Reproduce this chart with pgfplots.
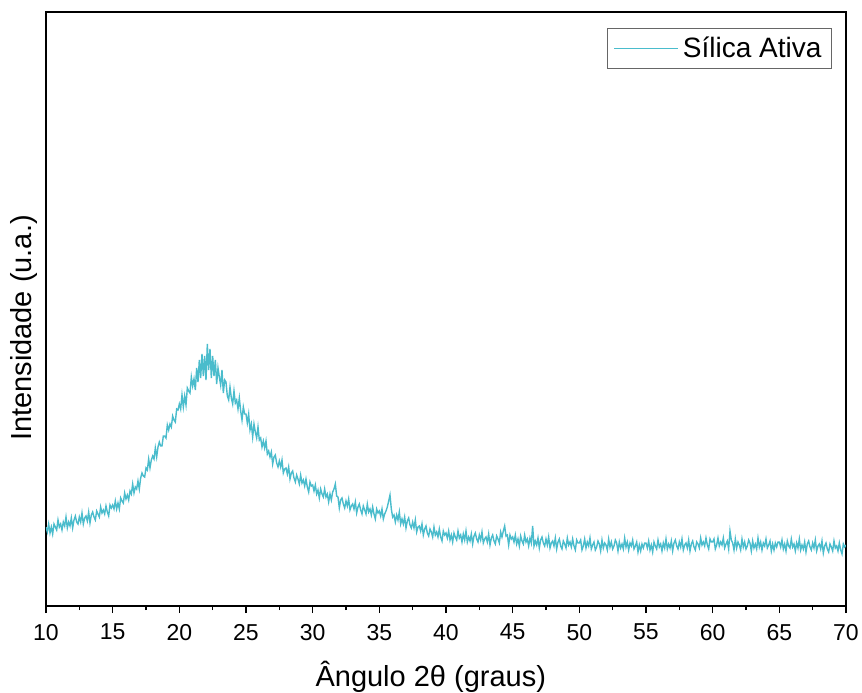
\documentclass[border=0pt]{standalone}
\usepackage{fontspec}
\setmainfont{Liberation Sans}
\usepackage{pgfplots}
\pgfplotsset{compat=1.18}
\definecolor{teal1}{RGB}{74,188,204}
\begin{document}
\begin{tikzpicture}
\useasboundingbox (-23pt,-43pt) rectangle (408pt,303pt);
\begin{axis}[
  at={(0,0)}, anchor=south west,
  scale only axis, width=400pt, height=297pt,
  xmin=10, xmax=70, ymin=0, ymax=594,
  xtick={10,15,...,70}, minor x tick num=1,
  ytick=\empty,
  xtick pos=bottom, tick align=outside,
  major tick length=3.5pt, minor tick length=2pt,
  axis line style={line width=0.9pt},
  every tick/.style={line width=0.8pt, black},
  /pgf/number format/assume math mode=true,
  ticklabel style={font=\fontsize{11.5}{13}\selectfont},
  xticklabel style={yshift=-2pt},
  xlabel={Ângulo 2θ (graus)},
  ylabel={Intensidade (u.a.)},
  label style={font=\fontsize{14.5}{16}\selectfont},
  x label style={at={(axis description cs:0.481,-0.12)}, anchor=center},
  y label style={at={(axis description cs:-0.027,0.468)}, anchor=center},
  legend style={at={(0.9825,0.973)}, anchor=north east, draw=black!60, line width=0.5pt,
    font=\fontsize{14}{16}\selectfont, inner xsep=3pt, inner ysep=2pt},
  legend cell align=left,
  legend image code/.code={\draw[#1] (0pt,0pt) -- (32pt,0pt);},
]
\addplot[teal1, line width=0.7pt] table[row sep=\\] {
x y\\
10.0 79\\ 10.1 74\\ 10.2 82\\ 10.3 73\\ 10.4 79\\ 10.5 72\\ 10.6 82\\ 10.7 79\\ 10.8 76\\ 10.9 86\\
11.0 79\\ 11.1 82\\ 11.2 76\\ 11.3 84\\ 11.4 80\\ 11.5 89\\ 11.6 78\\ 11.7 84\\ 11.8 80\\ 11.9 88\\
12.0 78\\ 12.1 86\\ 12.2 90\\ 12.3 84\\ 12.4 82\\ 12.5 89\\ 12.6 84\\ 12.7 93\\ 12.8 82\\ 12.9 88\\
13.0 90\\ 13.1 85\\ 13.2 94\\ 13.3 83\\ 13.4 91\\ 13.5 94\\ 13.6 89\\ 13.7 86\\ 13.8 95\\ 13.9 92\\
14.0 89\\ 14.1 99\\ 14.2 93\\ 14.3 96\\ 14.4 92\\ 14.5 100\\ 14.6 94\\ 14.7 90\\ 14.8 101\\ 14.9 98\\
15.0 101\\ 15.1 97\\ 15.2 105\\ 15.3 97\\ 15.4 103\\ 15.5 97\\ 15.6 108\\ 15.7 105\\ 15.8 103\\ 15.9 113\\
16.0 107\\ 16.1 111\\ 16.2 106\\ 16.3 115\\ 16.4 112\\ 16.5 122\\ 16.6 113\\ 16.7 119\\ 16.8 117\\ 16.9 125\\
17.0 117\\ 17.1 128\\ 17.2 133\\ 17.3 130\\ 17.4 129\\ 17.5 138\\ 17.6 136\\ 17.7 147\\ 17.8 138\\ 17.9 146\\
18.0 150\\ 18.1 147\\ 18.2 158\\ 18.3 149\\ 18.4 159\\ 18.5 164\\ 18.6 160\\ 18.7 160\\ 18.8 170\\ 18.9 170\\
19.0 168\\ 19.1 181\\ 19.2 176\\ 19.3 182\\ 19.4 179\\ 19.5 190\\ 19.6 186\\ 19.7 184\\ 19.8 197\\ 19.9 196\\
20.0 202\\ 20.1 197\\ 20.2 211\\ 20.3 199\\ 20.4 210\\ 20.5 201\\ 20.6 218\\ 20.7 215\\ 20.8 213\\ 20.9 229\\
21.0 220\\ 21.1 227\\ 21.2 216\\ 21.3 238\\ 21.4 224\\ 21.5 246\\ 21.6 228\\ 21.7 252\\ 21.8 230\\ 21.9 250\\
22.0 226\\ 22.1 262\\ 22.2 236\\ 22.3 257\\ 22.4 228\\ 22.5 250\\ 22.6 230\\ 22.7 246\\ 22.8 222\\ 22.9 238\\
23.0 229\\ 23.1 221\\ 23.2 236\\ 23.3 213\\ 23.4 226\\ 23.5 224\\ 23.6 210\\ 23.7 206\\ 23.8 219\\ 23.9 208\\
24.0 202\\ 24.1 215\\ 24.2 203\\ 24.3 206\\ 24.4 197\\ 24.5 208\\ 24.6 195\\ 24.7 186\\ 24.8 199\\ 24.9 192\\
25.0 192\\ 25.1 183\\ 25.2 192\\ 25.3 176\\ 25.4 182\\ 25.5 169\\ 25.6 182\\ 25.7 174\\ 25.8 168\\ 25.9 179\\
26.0 166\\ 26.1 168\\ 26.2 159\\ 26.3 165\\ 26.4 158\\ 26.5 165\\ 26.6 152\\ 26.7 155\\ 26.8 149\\ 26.9 154\\
27.0 142\\ 27.1 149\\ 27.2 151\\ 27.3 143\\ 27.4 139\\ 27.5 145\\ 27.6 139\\ 27.7 146\\ 27.8 133\\ 27.9 137\\
28.0 138\\ 28.1 132\\ 28.2 139\\ 28.3 127\\ 28.4 133\\ 28.5 135\\ 28.6 128\\ 28.7 124\\ 28.8 131\\ 28.9 127\\
29.0 122\\ 29.1 131\\ 29.2 123\\ 29.3 126\\ 29.4 120\\ 29.5 127\\ 29.6 119\\ 29.7 114\\ 29.8 124\\ 29.9 120\\
30.0 121\\ 30.1 115\\ 30.2 121\\ 30.3 112\\ 30.4 116\\ 30.5 108\\ 30.6 117\\ 30.7 112\\ 30.8 109\\ 30.9 117\\
31.0 109\\ 31.1 112\\ 31.2 104\\ 31.3 112\\ 31.4 106\\ 31.5 114\\ 31.6 117\\ 31.7 122\\ 31.8 110\\ 31.9 109\\
32.0 98\\ 32.1 106\\ 32.2 108\\ 32.3 102\\ 32.4 98\\ 32.5 105\\ 32.6 100\\ 32.7 107\\ 32.8 96\\ 32.9 100\\
33.0 102\\ 33.1 97\\ 33.2 104\\ 33.3 93\\ 33.4 99\\ 33.5 102\\ 33.6 96\\ 33.7 92\\ 33.8 100\\ 33.9 96\\
34.0 92\\ 34.1 102\\ 34.2 94\\ 34.3 97\\ 34.4 91\\ 34.5 99\\ 34.6 92\\ 34.7 87\\ 34.8 97\\ 34.9 93\\
35.0 95\\ 35.1 90\\ 35.2 97\\ 35.3 87\\ 35.4 92\\ 35.5 95\\ 35.6 99\\ 35.7 105\\ 35.8 111\\ 35.9 97\\
36.0 89\\ 36.1 91\\ 36.2 84\\ 36.3 91\\ 36.4 86\\ 36.5 94\\ 36.6 82\\ 36.7 87\\ 36.8 82\\ 36.9 89\\
37.0 78\\ 37.1 85\\ 37.2 88\\ 37.3 81\\ 37.4 78\\ 37.5 84\\ 37.6 78\\ 37.7 86\\ 37.8 74\\ 37.9 79\\
38.0 80\\ 38.1 75\\ 38.2 82\\ 38.3 71\\ 38.4 77\\ 38.5 80\\ 38.6 73\\ 38.7 70\\ 38.8 77\\ 38.9 74\\
39.0 69\\ 39.1 79\\ 39.2 71\\ 39.3 74\\ 39.4 69\\ 39.5 77\\ 39.6 69\\ 39.7 65\\ 39.8 75\\ 39.9 71\\
40.0 73\\ 40.1 68\\ 40.2 75\\ 40.3 66\\ 40.4 71\\ 40.5 64\\ 40.6 73\\ 40.7 69\\ 40.8 66\\ 40.9 75\\
41.0 68\\ 41.1 71\\ 41.2 64\\ 41.3 72\\ 41.4 66\\ 41.5 75\\ 41.6 64\\ 41.7 69\\ 41.8 65\\ 41.9 72\\
42.0 62\\ 42.1 70\\ 42.2 73\\ 42.3 67\\ 42.4 64\\ 42.5 71\\ 42.6 66\\ 42.7 74\\ 42.8 63\\ 42.9 67\\
43.0 69\\ 43.1 64\\ 43.2 72\\ 43.3 61\\ 43.4 68\\ 43.5 71\\ 43.6 65\\ 43.7 62\\ 43.8 70\\ 43.9 67\\
44.0 63\\ 44.1 74\\ 44.2 69\\ 44.3 75\\ 44.4 80\\ 44.5 70\\ 44.6 71\\ 44.7 61\\ 44.8 71\\ 44.9 67\\
45.0 69\\ 45.1 64\\ 45.2 71\\ 45.3 62\\ 45.4 67\\ 45.5 60\\ 45.6 70\\ 45.7 65\\ 45.8 62\\ 45.9 71\\
46.0 64\\ 46.1 67\\ 46.2 60\\ 46.3 68\\ 46.4 63\\ 46.5 80\\ 46.6 60\\ 46.7 65\\ 46.8 61\\ 46.9 68\\
47.0 58\\ 47.1 66\\ 47.2 69\\ 47.3 63\\ 47.4 60\\ 47.5 67\\ 47.6 61\\ 47.7 69\\ 47.8 58\\ 47.9 63\\
48.0 65\\ 48.1 60\\ 48.2 68\\ 48.3 57\\ 48.4 64\\ 48.5 67\\ 48.6 60\\ 48.7 57\\ 48.8 65\\ 48.9 62\\
49.0 58\\ 49.1 68\\ 49.2 61\\ 49.3 64\\ 49.4 59\\ 49.5 67\\ 49.6 60\\ 49.7 56\\ 49.8 66\\ 49.9 63\\
50.0 63\\ 50.1 66\\ 50.2 56\\ 50.3 60\\ 50.4 67\\ 50.5 58\\ 50.6 64\\ 50.7 60\\ 50.8 68\\ 50.9 57\\
51.0 61\\ 51.1 64\\ 51.2 56\\ 51.3 59\\ 51.4 65\\ 51.5 62\\ 51.6 55\\ 51.7 66\\ 51.8 58\\ 51.9 63\\
52.0 61\\ 52.1 56\\ 52.2 67\\ 52.3 59\\ 52.4 64\\ 52.5 57\\ 52.6 60\\ 52.7 66\\ 52.8 63\\ 52.9 55\\
53.0 64\\ 53.1 58\\ 53.2 62\\ 53.3 57\\ 53.4 68\\ 53.5 59\\ 53.6 64\\ 53.7 56\\ 53.8 63\\ 53.9 60\\
54.0 66\\ 54.1 57\\ 54.2 60\\ 54.3 64\\ 54.4 54\\ 54.5 61\\ 54.6 55\\ 54.7 62\\ 54.8 58\\ 54.9 63\\
55.0 63\\ 55.1 58\\ 55.2 65\\ 55.3 56\\ 55.4 61\\ 55.5 54\\ 55.6 64\\ 55.7 60\\ 55.8 57\\ 55.9 66\\
56.0 59\\ 56.1 62\\ 56.2 55\\ 56.3 63\\ 56.4 58\\ 56.5 67\\ 56.6 57\\ 56.7 62\\ 56.8 58\\ 56.9 65\\
57.0 55\\ 57.1 63\\ 57.2 66\\ 57.3 60\\ 57.4 57\\ 57.5 64\\ 57.6 59\\ 57.7 67\\ 57.8 56\\ 57.9 61\\
58.0 63\\ 58.1 58\\ 58.2 66\\ 58.3 55\\ 58.4 62\\ 58.5 65\\ 58.6 59\\ 58.7 56\\ 58.8 64\\ 58.9 62\\
59.0 58\\ 59.1 68\\ 59.2 61\\ 59.3 64\\ 59.4 60\\ 59.5 68\\ 59.6 61\\ 59.7 57\\ 59.8 67\\ 59.9 64\\
60.0 64\\ 60.1 67\\ 60.2 57\\ 60.3 61\\ 60.4 68\\ 60.5 60\\ 60.6 64\\ 60.7 61\\ 60.8 68\\ 60.9 58\\
61.0 62\\ 61.1 65\\ 61.2 57\\ 61.3 75\\ 61.4 66\\ 61.5 63\\ 61.6 56\\ 61.7 67\\ 61.8 58\\ 61.9 64\\
62.0 61\\ 62.1 56\\ 62.2 67\\ 62.3 59\\ 62.4 64\\ 62.5 57\\ 62.6 60\\ 62.7 66\\ 62.8 63\\ 62.9 55\\
63.0 65\\ 63.1 58\\ 63.2 62\\ 63.3 57\\ 63.4 68\\ 63.5 59\\ 63.6 64\\ 63.7 56\\ 63.8 63\\ 63.9 60\\
64.0 67\\ 64.1 58\\ 64.2 61\\ 64.3 65\\ 64.4 55\\ 64.5 62\\ 64.6 56\\ 64.7 63\\ 64.8 59\\ 64.9 64\\
65.0 64\\ 65.1 59\\ 65.2 66\\ 65.3 57\\ 65.4 62\\ 65.5 55\\ 65.6 65\\ 65.7 60\\ 65.8 58\\ 65.9 67\\
66.0 59\\ 66.1 62\\ 66.2 55\\ 66.3 63\\ 66.4 58\\ 66.5 67\\ 66.6 56\\ 66.7 61\\ 66.8 57\\ 66.9 64\\
67.0 54\\ 67.1 62\\ 67.2 65\\ 67.3 59\\ 67.4 56\\ 67.5 63\\ 67.6 58\\ 67.7 66\\ 67.8 55\\ 67.9 60\\
68.0 62\\ 68.1 57\\ 68.2 65\\ 68.3 53\\ 68.4 60\\ 68.5 63\\ 68.6 57\\ 68.7 54\\ 68.8 62\\ 68.9 59\\
69.0 55\\ 69.1 65\\ 69.2 58\\ 69.3 60\\ 69.4 55\\ 69.5 63\\ 69.6 56\\ 69.7 52\\ 69.8 62\\ 69.9 59\\
70.0 61\\
};
\addlegendentry{Sílica Ativa}
\end{axis}
\end{tikzpicture}
\end{document}
